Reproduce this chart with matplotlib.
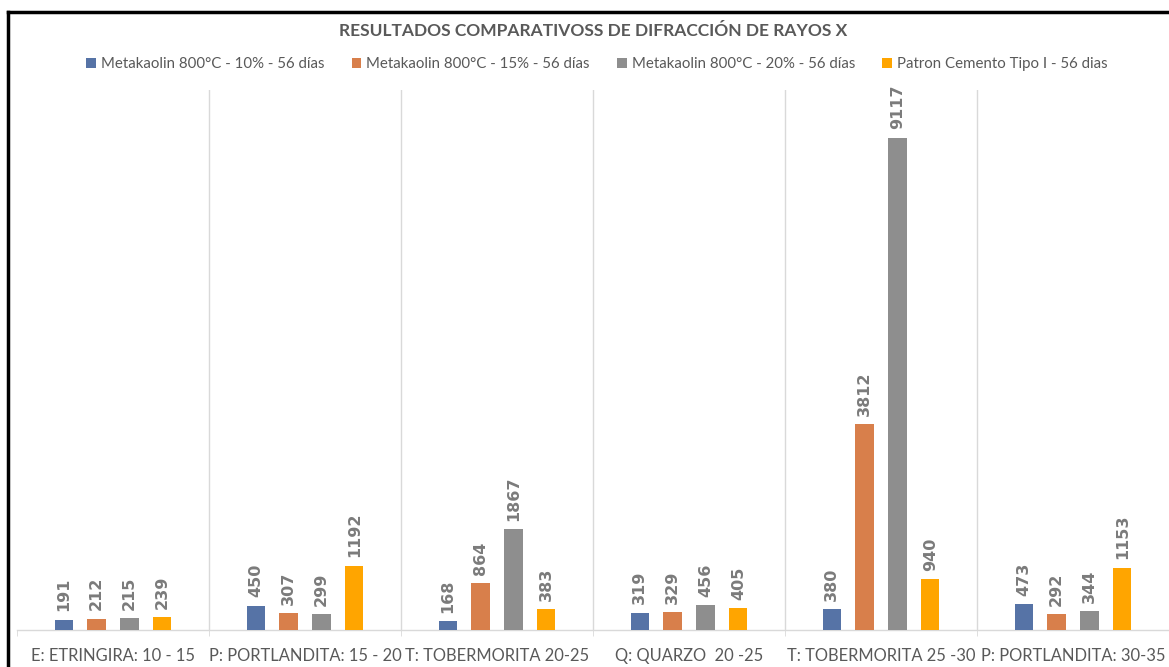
# Grafica de barras agrupadas con los resultados de difraccion de rayos X
# para las mezclas con metakaolin y el cemento patron

import numpy as np
import matplotlib.pyplot as plt
from matplotlib.lines import Line2D

# categorias (picos de difraccion)
Categorias = [
    "E: ETRINGIRA: 10 - 15",
    "P: PORTLANDITA: 15 - 20",
    "T: TOBERMORITA 20-25",
    "Q: QUARZO  20 -25",
    "T: TOBERMORITA 25 -30",
    "P: PORTLANDITA: 30-35",
]

# series
Series = [
    "Metakaolin 800°C - 10% - 56 días",
    "Metakaolin 800°C - 15% - 56 días",
    "Metakaolin 800°C - 20% - 56 días",
    "Patron Cemento Tipo I - 56 dias",
]

Meta_10 = [191, 450, 168, 319, 380, 473]
Meta_15 = [212, 307, 864, 329, 3812, 292]
Meta_20 = [215, 299, 1867, 456, 9117, 344]
Patron = [239, 1192, 383, 405, 940, 1153]

Colores = ["#5673a6", "#d87f4b", "#8e8e8e", "#ffa500"]

Fuente = ["Lato", "DejaVu Sans"]
Gris_texto = "#595959"

# crear figura
fig = plt.figure(
    figsize=(11.69, 6.67),
    dpi=100
)

ax = fig.add_axes(
    [17 / 1169, 37 / 667, 1152 / 1169, 540 / 667]
)

Posiciones = np.arange(len(Categorias))
Desplazamientos = [-0.257, -0.086, 0.086, 0.257]
Ancho = 0.094

Valores = [Meta_10, Meta_15, Meta_20, Patron]

for Serie, Datos, Color, Desp in zip(Series, Valores, Colores, Desplazamientos):

    Barras = ax.bar(
        Posiciones + Desp,
        Datos,
        width=Ancho,
        color=Color,
        label=Serie,
        zorder=3
    )

    # etiquetas de valor verticales
    for Barra, Valor in zip(Barras, Datos):
        ax.annotate(
            str(Valor),
            xy=(Barra.get_x() + Barra.get_width() / 2, Valor),
            xytext=(0, 6),
            textcoords="offset points",
            rotation=90,
            ha="center",
            va="bottom",
            fontsize=11.5,
            fontweight="bold",
            color="#7b7b7b",
            family="DejaVu Sans"
        )

# limites
ax.set_xlim(
    -0.5,
    len(Categorias) - 0.5
)

ax.set_ylim(
    0,
    10000
)

# lineas divisorias entre categorias
for Limite in np.arange(0.5, len(Categorias) - 0.5, 1):
    ax.axvline(
        Limite,
        color="#d9d9d9",
        lw=1,
        zorder=1
    )

# ejes
for Lado in ["top", "right", "left"]:
    ax.spines[Lado].set_visible(False)

ax.spines["bottom"].set_color("#d9d9d9")
ax.spines["bottom"].set_linewidth(1)

ax.set_yticks([])

ax.set_xticks(Posiciones)
ax.set_xticklabels(
    Categorias,
    family=Fuente,
    fontsize=11.9,
    color=Gris_texto
)
ax.tick_params(
    axis="x",
    which="major",
    length=0,
    pad=13
)

ax.set_xticks(
    np.arange(-0.5, len(Categorias), 1),
    minor=True
)
ax.tick_params(
    axis="x",
    which="minor",
    length=4,
    color="#d9d9d9"
)

# titulo
fig.text(
    593 / 1169,
    1 - 31 / 667,
    "RESULTADOS COMPARATIVOSS DE DIFRACCIÓN DE RAYOS X",
    ha="center",
    va="center",
    fontsize=12.5,
    fontweight="bold",
    color=Gris_texto,
    family=Fuente
)

# leyenda
fig.legend(
    loc="center",
    bbox_to_anchor=(597 / 1169, 1 - 64 / 667),
    ncol=4,
    frameon=False,
    handlelength=0.65,
    handleheight=0.65,
    handletextpad=0.35,
    columnspacing=1.8,
    prop={"family": Fuente, "size": 10.8},
    labelcolor=Gris_texto
)

# marco negro
fig.add_artist(Line2D(
    [8 / 1169, 8 / 1169],
    [0, 1 - 12 / 667],
    color="black",
    lw=2.5
))
fig.add_artist(Line2D(
    [8 / 1169, 1],
    [1 - 12 / 667, 1 - 12 / 667],
    color="black",
    lw=2.5
))

fig.savefig("out.png", dpi=100)
